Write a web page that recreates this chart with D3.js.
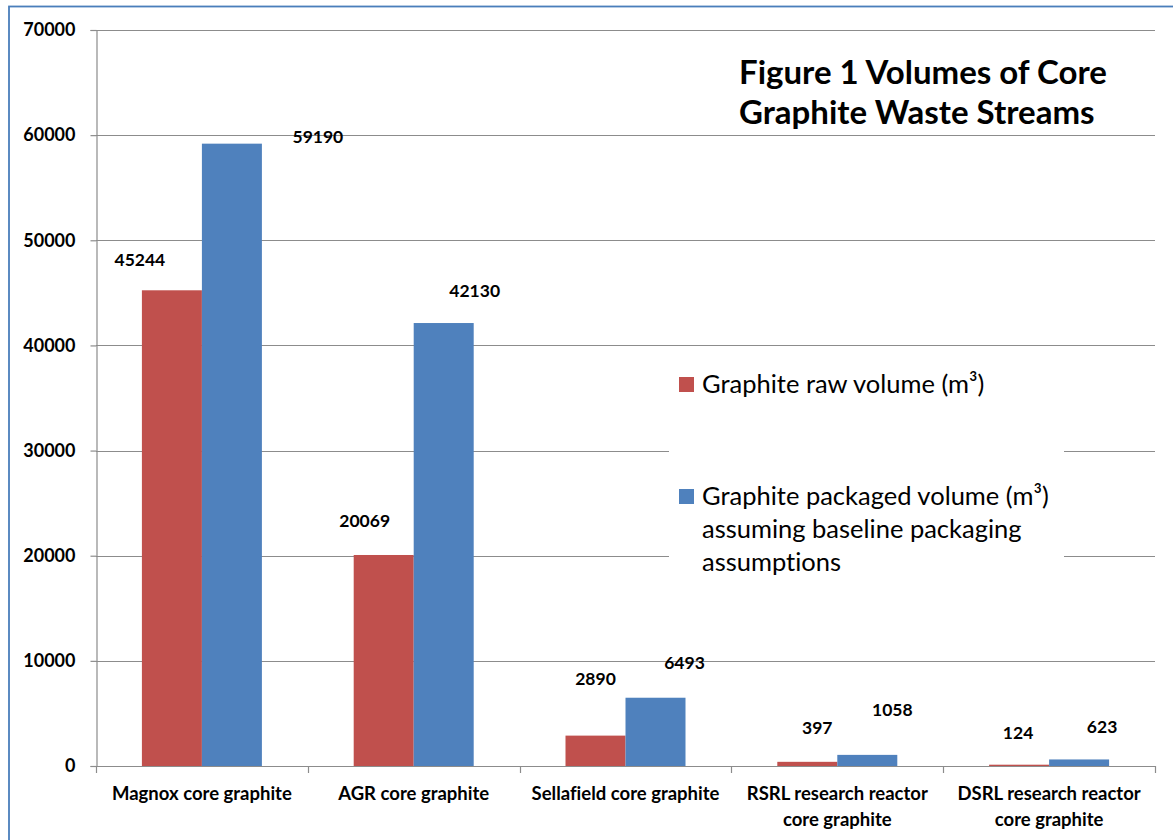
<!DOCTYPE html>
<html>
<head>
<meta charset="utf-8">
<script src="https://cdn.jsdelivr.net/npm/d3@7"></script>
<style>
  html, body { margin: 0; padding: 0; background: #fff; }
  svg { display: block; }
  text { font-family: Lato, "Open Sans", sans-serif; fill: #000; font-variant-ligatures: none; font-feature-settings: "liga" 0; }
</style>
</head>
<body>
<svg id="chart" width="1173" height="840"></svg>
<script>
// ---- data ----
const categories = [
  ["Magnox core graphite"],
  ["AGR core graphite"],
  ["Sellafield core graphite"],
  ["RSRL research reactor", "core graphite"],
  ["DSRL research reactor", "core graphite"]
];
const seriesNames = ["Graphite raw volume (m³)", "Graphite packaged volume (m³)"];
const rawVolume = [45244, 20069, 2890, 397, 124];
const packagedVolume = [59190, 42130, 6493, 1058, 623];
const yTicks = [0, 10000, 20000, 30000, 40000, 50000, 60000, 70000];
const titleLines = ["Figure 1 Volumes of Core", "Graphite Waste Streams"];
const legendLines = [
  ["Graphite raw volume (m³)"],
  ["Graphite packaged volume (m³)", "assuming baseline packaging", "assumptions"]
];

// ---- layout / style ----
const colors = ["#C0504D", "#4F81BD"];
const plot = { left: 96, right: 1155, top: 30, bottom: 766 };
// manual label nudges (px) relative to bar top-centre, as placed in the original
const labelNudge = [
  [[-32, -30], [-19, -34], [0, -57], [10, -34], [-1, -32]],
  [[86, -7], [31, -32], [29, -35], [25, -45], [23, -33]]
];

const svg = d3.select("#chart");
const catKeys = categories.map((c, i) => i);

const x = d3.scaleBand().domain(catKeys).range([plot.left, plot.right]).padding(0);
const xSub = d3.scaleBand().domain([0, 1]).range([0, x.bandwidth()]).paddingInner(0).paddingOuter(0.765);
const y = d3.scaleLinear().domain([0, 70000]).range([plot.bottom, plot.top]);

// outer frame
svg.append("rect")
  .attr("x", 9).attr("y", 6.5).attr("width", 1200).attr("height", 900)
  .attr("fill", "none").attr("stroke", "#4A7EBB").attr("stroke-width", 1.8);

// gridlines
svg.append("g").selectAll("line").data(yTicks.filter(t => t > 0)).join("line")
  .attr("x1", plot.left).attr("x2", plot.right)
  .attr("y1", d => Math.round(y(d)) + 0.5).attr("y2", d => Math.round(y(d)) + 0.5)
  .attr("stroke", "#8C8C8C").attr("stroke-width", 1.2);

// y axis
const yAxis = d3.axisLeft(y).tickValues(yTicks).tickSize(6).tickPadding(15).tickFormat(d3.format("d"));
const gy = svg.append("g").attr("transform", `translate(${plot.left + 0.5},0)`).call(yAxis);
gy.select(".domain").attr("stroke", "#8C8C8C").attr("stroke-width", 1.2);
gy.selectAll(".tick line").attr("stroke", "#8C8C8C").attr("stroke-width", 1.2);
gy.selectAll(".tick text").attr("font-family", "Lato").attr("font-size", 18).attr("font-weight", "bold").attr("fill", "#000");

// bars
const series = [rawVolume, packagedVolume];
series.forEach((vals, si) => {
  svg.append("g").selectAll("rect").data(vals).join("rect")
    .attr("x", (d, i) => x(i) + xSub(si))
    .attr("width", xSub.bandwidth())
    .attr("y", d => y(d))
    .attr("height", d => y(0) - y(d))
    .attr("fill", colors[si]);
});

// x axis line and ticks
svg.append("line")
  .attr("x1", plot.left).attr("x2", plot.right)
  .attr("y1", plot.bottom + 0.5).attr("y2", plot.bottom + 0.5)
  .attr("stroke", "#8C8C8C").attr("stroke-width", 1.2);
const boundaries = catKeys.map(k => x(k)).concat([x(catKeys[catKeys.length - 1]) + x.bandwidth()]);
svg.append("g").selectAll("line").data(boundaries).join("line")
  .attr("x1", d => Math.round(d) + 0.5).attr("x2", d => Math.round(d) + 0.5)
  .attr("y1", plot.bottom).attr("y2", plot.bottom + 7)
  .attr("stroke", "#8C8C8C").attr("stroke-width", 1.2);

// category labels
const catG = svg.append("g");
categories.forEach((lines, i) => {
  const t = catG.append("text")
    .attr("x", x(i) + x.bandwidth() / 2)
    .attr("y", 800)
    .attr("text-anchor", "middle")
    .attr("font-size", 18.5).attr("font-weight", "bold");
  lines.forEach((ln, li) => {
    t.append("tspan").attr("x", x(i) + x.bandwidth() / 2).attr("dy", li === 0 ? 0 : 26).text(ln);
  });
});

// data labels
series.forEach((vals, si) => {
  svg.append("g").selectAll("text").data(vals).join("text")
    .attr("x", (d, i) => x(i) + xSub(si) + xSub.bandwidth() / 2 + labelNudge[si][i][0])
    .attr("y", (d, i) => y(d) + labelNudge[si][i][1])
    .attr("dy", "0.35em")
    .attr("text-anchor", "middle")
    .attr("font-size", 17.5).attr("font-weight", "bold")
    .text(d => d);
});

// title
const title = svg.append("text").attr("x", 739).attr("y", 84)
  .attr("font-size", 33).attr("font-weight", "bold");
titleLines.forEach((ln, i) => {
  title.append("tspan").attr("x", 739).attr("dy", i === 0 ? 0 : 40).text(ln);
});

// legend (white box over gridlines)
const lg = svg.append("g");
lg.append("rect").attr("x", 669).attr("y", 350).attr("width", 395).attr("height", 250).attr("fill", "#fff");
const legendTop = [393, 505];
legendLines.forEach((lines, si) => {
  lg.append("rect").attr("x", 679).attr("y", legendTop[si] - 16).attr("width", 15).attr("height", 15).attr("fill", colors[si]);
  const t = lg.append("text").attr("x", 702).attr("y", legendTop[si]).attr("font-size", 25.5);
  lines.forEach((ln, li) => {
    t.append("tspan").attr("x", 702).attr("dy", li === 0 ? 0 : 33).text(ln);
  });
});
</script>
</body>
</html>
